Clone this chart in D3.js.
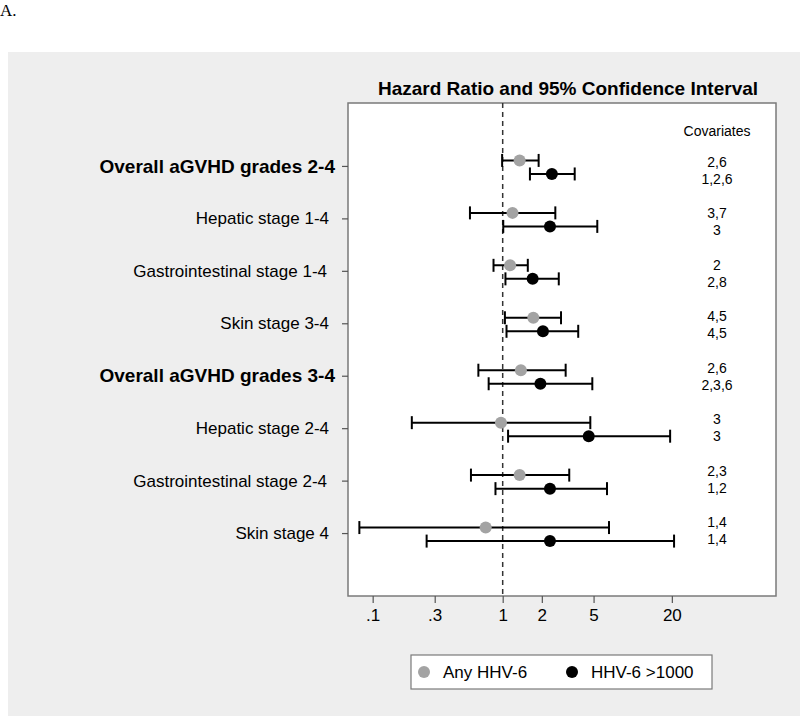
<!DOCTYPE html>
<html>
<head>
<meta charset="utf-8">
<script src="https://cdn.jsdelivr.net/npm/d3@7"></script>
<style>
  body { margin: 0; background: #fff; }
  svg { display: block; font-family: "Liberation Sans", Arial, sans-serif; }
</style>
</head>
<body>
<div id="graphic"></div>
<script>
var categories = [
  'Overall aGVHD grades 2-4',
  'Hepatic stage 1-4',
  'Gastrointestinal stage 1-4',
  'Skin stage 3-4',
  'Overall aGVHD grades 3-4',
  'Hepatic stage 2-4',
  'Gastrointestinal stage 2-4',
  'Skin stage 4'
]

// Any HHV-6
var anyHR = [1.35, 1.19, 1.14, 1.72, 1.38, 0.97, 1.35, 0.74]
var anyLo = [0.99, 0.56, 0.85, 1.04, 0.65, 0.20, 0.57, 0.079]
var anyHi = [1.89, 2.54, 1.56, 2.81, 3.05, 4.72, 3.25, 6.57]

// HHV-6 >1000
var highHR = [2.39, 2.31, 1.70, 2.04, 1.95, 4.59, 2.31, 2.31]
var highLo = [1.62, 1.01, 1.05, 1.07, 0.78, 1.10, 0.88, 0.26]
var highHi = [3.58, 5.34, 2.70, 3.81, 4.89, 19.4, 6.34, 20.8]

var covAny = ['2,6', '3,7', '2', '4,5', '2,6', '3', '2,3', '1,4']
var covHigh = ['1,2,6', '3', '2,8', '4,5', '2,3,6', '3', '1,2', '1,4']

var xTicks = [0.1, 0.3, 1, 2, 5, 20]
var tickLabel = d => d < 1 ? String(d).replace(/^0/, '') : String(d)

var series = [
  {name: 'Any HHV-6', hr: anyHR, lo: anyLo, hi: anyHi, color: '#a3a3a3', off: -0.105},
  {name: 'HHV-6 >1000', hr: highHR, lo: highLo, hi: highHi, color: '#000', off: 0.153}
]

var width = 800
var height = 716

var svg = d3.select('#graphic')
  .html('')
  .append('svg')
  .attr('width', width)
  .attr('height', height)

// figure letter
svg.append('text')
  .text('A.')
  .attr('x', 0).attr('y', 16)
  .style('font-family', '"Liberation Serif", "Times New Roman", serif')
  .style('font-size', '17px')

// grey graph region
svg.append('rect')
  .attr('x', 8).attr('y', 52)
  .attr('width', width - 8).attr('height', height - 52)
  .attr('fill', '#eeeeee')

var plot = {left: 348, right: 776, top: 103, bottom: 596}

var x = d3.scaleLog()
  .domain([0.0646, 126.5])
  .range([plot.left, plot.right])

var y = d3.scaleLinear()
  .domain([-1.2, 8.2])
  .range([plot.top, plot.bottom])

var covY = d3.scaleLinear()
  .domain([0, 7])
  .range([162, 522])

svg.append('rect')
  .attr('x', plot.left).attr('y', plot.top)
  .attr('width', plot.right - plot.left).attr('height', plot.bottom - plot.top)
  .attr('fill', '#fff')
  .attr('stroke', '#7a7a7a')
  .attr('stroke-width', 1.5)

svg.append('text')
  .text('Hazard Ratio and 95% Confidence Interval')
  .attr('x', 568).attr('y', 95)
  .attr('text-anchor', 'middle')
  .style('font-weight', 'bold')
  .style('font-size', '19px')

// x axis
var xAxis = svg.append('g')
  .attr('transform', 'translate(0,' + plot.bottom + ')')
  .call(d3.axisBottom(x).tickValues(xTicks).tickFormat(tickLabel).tickSize(7).tickPadding(6))
xAxis.select('.domain').remove()
xAxis.selectAll('line').attr('stroke', '#555').attr('stroke-width', 1.2)
xAxis.selectAll('text')
  .attr('fill', '#000')
  .style('font-family', '"Liberation Sans", Arial, sans-serif')
  .style('font-size', '17px')

// y axis
var yAxis = svg.append('g')
  .attr('transform', 'translate(' + plot.left + ',0)')
  .call(d3.axisLeft(y).tickValues(d3.range(categories.length)).tickFormat(i => categories[i]).tickSize(6).tickPadding(0))
yAxis.select('.domain').remove()
yAxis.selectAll('line').attr('stroke', '#555').attr('stroke-width', 1.2)
yAxis.selectAll('text')
  .attr('fill', '#000')
  .attr('x', i => categories[i].startsWith('Overall') ? -13 : (categories[i].startsWith('Gastro') ? -21 : -19))
  .style('font-family', '"Liberation Sans", Arial, sans-serif')
  .style('font-weight', i => categories[i].startsWith('Overall') ? 'bold' : 'normal')
  .style('font-size', i => categories[i].startsWith('Overall') ? '19px' : '17px')

// reference line at HR = 1
svg.append('line')
  .attr('x1', x(1)).attr('x2', x(1))
  .attr('y1', plot.top).attr('y2', plot.bottom)
  .attr('stroke', '#333')
  .attr('stroke-width', 1.5)
  .attr('stroke-dasharray', '5,4')

// error bars and points
series.forEach(s => {
  var g = svg.append('g')
  var rows = categories.map((c, i) => ({i, hr: s.hr[i], lo: s.lo[i], hi: s.hi[i]}))
  var bar = g.selectAll('g.bar').data(rows).enter().append('g')
    .attr('transform', d => 'translate(0,' + y(d.i + s.off) + ')')
  bar.append('line')
    .attr('x1', d => x(d.lo)).attr('x2', d => x(d.hi))
    .attr('stroke', '#000').attr('stroke-width', 2)
  bar.append('line')
    .attr('x1', d => x(d.lo)).attr('x2', d => x(d.lo))
    .attr('y1', -6.5).attr('y2', 6.5)
    .attr('stroke', '#000').attr('stroke-width', 2)
  bar.append('line')
    .attr('x1', d => x(d.hi)).attr('x2', d => x(d.hi))
    .attr('y1', -6.5).attr('y2', 6.5)
    .attr('stroke', '#000').attr('stroke-width', 2)
  bar.append('circle')
    .attr('cx', d => x(d.hr))
    .attr('r', 6)
    .attr('fill', s.color)
})

// covariates column
svg.append('text')
  .text('Covariates')
  .attr('x', 717).attr('y', 136)
  .attr('text-anchor', 'middle')
  .style('font-size', '14px')

svg.selectAll('text.cov1').data(covAny).enter().append('text')
  .attr('class', 'cov1')
  .text(d => d)
  .attr('x', 717).attr('y', (d, i) => covY(i) + 5)
  .attr('text-anchor', 'middle')
  .style('font-size', '14px')

svg.selectAll('text.cov2').data(covHigh).enter().append('text')
  .attr('class', 'cov2')
  .text(d => d)
  .attr('x', 717).attr('y', (d, i) => covY(i) + 22)
  .attr('text-anchor', 'middle')
  .style('font-size', '14px')

// legend
var legend = svg.append('g').attr('transform', 'translate(411,655)')
legend.append('rect')
  .attr('width', 301).attr('height', 34)
  .attr('fill', '#fff')
  .attr('stroke', '#7a7a7a')
  .attr('stroke-width', 1.2)
var item = legend.selectAll('g.item').data(series).enter().append('g')
  .attr('transform', (d, i) => 'translate(' + [13 + i * 148, 17] + ')')
item.append('circle').attr('r', 6).attr('fill', d => d.color)
item.append('text')
  .text(d => d.name)
  .attr('x', 19).attr('y', 6)
  .style('font-size', '17px')
</script>
</body>
</html>
